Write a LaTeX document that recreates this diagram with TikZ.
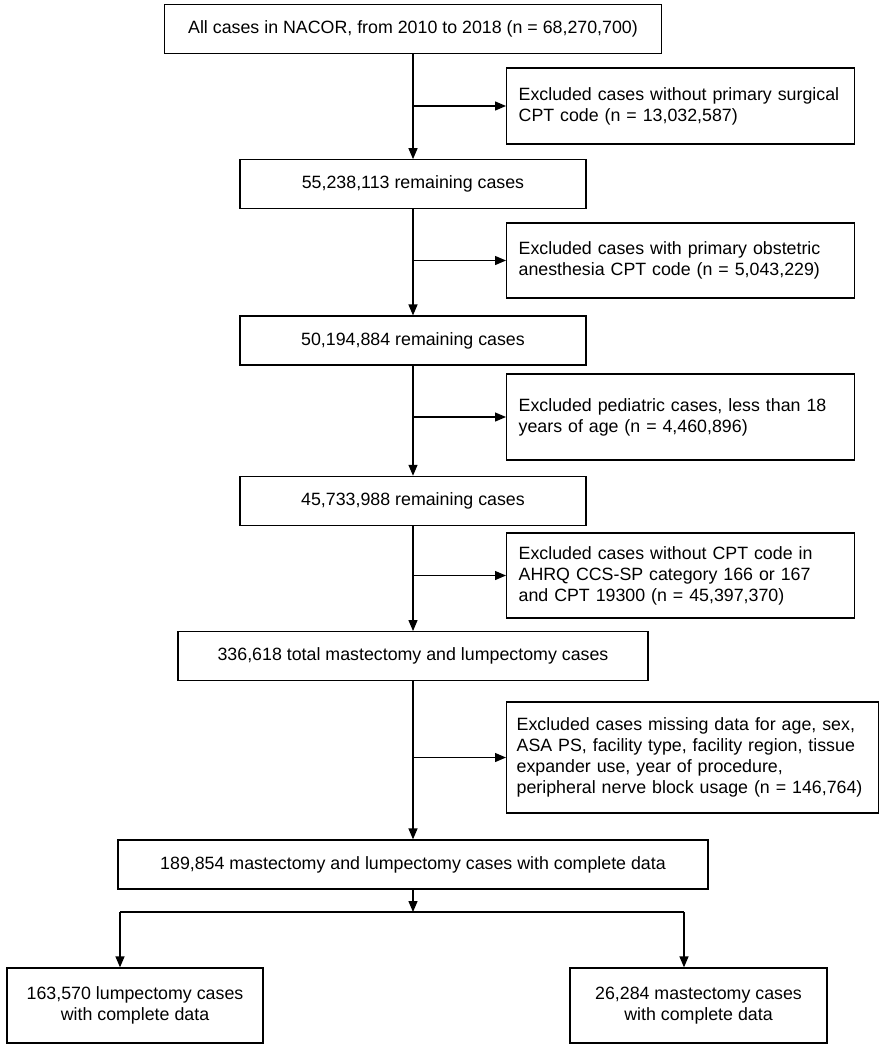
\documentclass[tikz,border=0pt]{standalone}
\usepackage{fontspec}
\setmainfont{Liberation Sans}
\usetikzlibrary{arrows.meta, positioning}
\tikzset{
	>={Triangle[length=11pt, width=9pt]},
	node distance=105pt,
	every node/.style={font=\fontsize{17.8}{21}\selectfont},
	box/.style={draw, line width=1.3pt, minimum height=49pt, align=center},
	excl/.style={box, anchor=west, align=left, inner xsep=12pt, text width=324pt},
	link/.style={->, line width=1.3pt}}

\begin{document}
\begin{tikzpicture}[x=1pt, y=1pt]
		\useasboundingbox (0,0) rectangle (884,-1050);
		\node[box, minimum width=497pt] (all) at (413,-29) {All cases in NACOR, from 2010 to 2018 (n = 68,270,700)};
		\node[box, minimum width=346pt, below=of all] (rem1) {55,238,113 remaining cases};
		\node[box, minimum width=346pt, below=106pt of rem1] (rem2) {50,194,884 remaining cases};
		\node[box, minimum width=346pt, below=110pt of rem2] (rem3) {45,733,988 remaining cases};
		\node[box, minimum width=470pt, below=of rem3] (total) {336,618 total mastectomy and lumpectomy cases};
		\node[box, minimum width=590pt, below=158pt of total] (complete) {189,854 mastectomy and lumpectomy cases with complete data};
		\node[box, minimum width=256pt, minimum height=75pt] (lump) at (135,-1005.5) {163,570 lumpectomy cases\\with complete data};
		\node[box, minimum width=257pt, minimum height=75pt] (mast) at (698.5,-1005.5) {26,284 mastectomy cases\\with complete data};
		
		\node[excl, minimum height=76pt] (ex1) at (506,-106) {Excluded cases without primary surgical\\CPT code (n = 13,032,587)};
		\node[excl, minimum height=75pt] (ex2) at (506,-260.5) {Excluded cases with primary obstetric\\anesthesia CPT code (n = 5,043,229)};
		\node[excl, minimum height=86pt] (ex3) at (506,-417) {Excluded pediatric cases, less than 18\\years of age (n = 4,460,896)};
		\node[excl, minimum height=85pt] (ex4) at (506,-575.5) {Excluded cases without CPT code in\\AHRQ CCS-SP category 166 or 167\\and CPT 19300 (n = 45,397,370)};
		\node[excl, minimum height=111pt, inner xsep=10pt, text width=352pt] (ex5) at (506,-757.5) {Excluded cases missing data for age, sex,\\ASA PS, facility type, facility region, tissue\\expander use, year of procedure,\\peripheral nerve block usage (n = 146,764)};
		
		\coordinate (split) at (413,-912);
		\coordinate (lsplit) at (120,-912);
		\coordinate (rsplit) at (684,-912);
		
		\draw[link] (all) -- (rem1);
		\draw[link] (all.south |- ex1.west) -- (ex1);
		\draw[link] (rem1) -- (rem2);
		\draw[link] (rem1.south |- ex2.west) -- (ex2);
		\draw[link] (rem2) -- (rem3);
		\draw[link] (rem2.south |- ex3.west) -- (ex3);
		\draw[link] (rem3) -- (total);
		\draw[link] (rem3.south |- ex4.west) -- (ex4);
		\draw[link] (total) -- (complete);
		\draw[link] (total.south |- ex5.west) -- (ex5);
		\draw[link] (complete) -- (split);
		\draw[line width=1.3pt] (lsplit) -- (rsplit);
		\draw[link] (lsplit) -- (lsplit |- lump.north);
		\draw[link] (rsplit) -- (rsplit |- mast.north);
	\end{tikzpicture}
\end{document}
